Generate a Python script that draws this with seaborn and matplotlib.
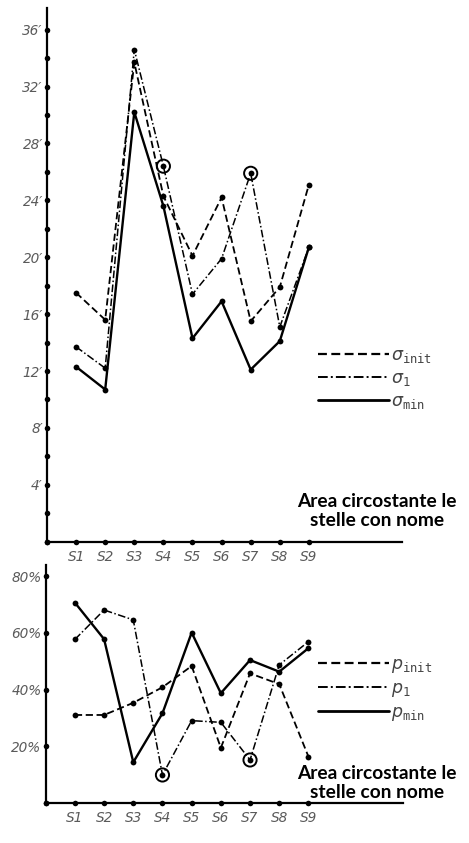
import numpy as np
import pandas as pd
import matplotlib
matplotlib.use("Agg")
import matplotlib.pyplot as plt
from matplotlib.lines import Line2D
from matplotlib.ticker import FixedLocator
import seaborn as sns

# Stars along the x axis
stars = ["S1", "S2", "S3", "S4", "S5", "S6", "S7", "S8", "S9"]

# Angular extent (arc minutes)
sigma_init = [17.5, 15.6, 33.7, 24.3, 20.1, 24.2, 15.5, 17.9, 25.1]
sigma_1 = [13.7, 12.2, 34.6, 26.4, 17.4, 19.9, 25.9, 15.1, 20.7]
sigma_min = [12.3, 10.7, 30.2, 23.6, 14.3, 16.9, 12.1, 14.1, 20.7]

# Percentages
p_init = [31.0, 31.0, 35.3, 40.8, 48.3, 19.4, 45.7, 41.9, 16.3]
p_1 = [57.7, 68.1, 64.6, 9.8, 29.0, 28.4, 15.1, 48.7, 56.9]
p_min = [70.7, 57.8, 14.3, 31.6, 60.1, 38.7, 50.4, 46.3, 54.6]

# Stars whose p_1 / sigma_1 values are ringed
ringed = ["S4", "S7"]

area_label = "Area circostante le\nstelle con nome"

sigma_ticks = [4, 8, 12, 16, 20, 24, 28, 32, 36]
pct_ticks = [20, 40, 60, 80]

sns.set_theme(style="white")
plt.rcParams["font.family"] = ["DejaVu Sans"]

fig = plt.figure(figsize=(4.69, 8.43), dpi=100)
W, H = 469, 843


def px_axes(left, top, right, bottom):
    a = fig.add_axes([left / W, 1 - bottom / H, (right - left) / W, (bottom - top) / H])
    a.set_facecolor("none")
    return a


ax_top = px_axes(47, 8.3, 402, 541.7)
ax_bot = px_axes(45.7, 565, 403, 802.7)

pos = np.arange(1, len(stars) + 1)
ink = "black"
label_grey = "#5a5a5a"

line_styles = {
    "init": (4, 2),
    "one": (5, 1.6, 1, 1.6),
    "min": "",
}
widths = {"init": 1.3, "one": 1.1, "min": 1.7}


def long_frame(series):
    rows = []
    for key, vals in series.items():
        for s, x, v in zip(stars, pos, vals):
            rows.append({"star": s, "pos": x, "value": v, "series": key})
    return pd.DataFrame(rows)


def dot_ticks(axis):
    # round dots on the axis line instead of tick strokes
    for minor in (False, True):
        for tl in axis.get_ticklines(minor=minor):
            tl.set_marker("o")
            tl.set_markersize(4.0)
            tl.set_markerfacecolor(ink)
            tl.set_markeredgewidth(0)


def draw_panel(ax, series, ymax, xmax, major, minor, fmt, legend_labels, legend_anchor, text_pos):
    df = long_frame(series)
    for key in ["init", "one", "min"]:
        sub = df[df["series"] == key]
        sns.lineplot(
            data=sub, x="pos", y="value", ax=ax, color=ink,
            linewidth=widths[key],
            marker="o", markersize=4.2, markeredgewidth=0, legend=False,
            estimator=None, sort=False,
        )
        if line_styles[key]:
            ax.lines[-1].set_dashes(line_styles[key])
    ring = df[(df["series"] == "one") & (df["star"].isin(ringed))]
    sns.scatterplot(data=ring, x="pos", y="value", ax=ax, s=90, facecolor="none",
                    edgecolor=ink, linewidth=1.4, legend=False, zorder=5)

    ax.set_xlim(0, xmax)
    ax.set_ylim(0, ymax)
    for side in ["top", "right"]:
        ax.spines[side].set_visible(False)
    for side in ["left", "bottom"]:
        ax.spines[side].set_color(ink)
        ax.spines[side].set_linewidth(1.6)

    ax.xaxis.set_major_locator(FixedLocator(list(pos)))
    ax.set_xticklabels(stars)
    ax.xaxis.set_minor_locator(FixedLocator([0]))
    ax.yaxis.set_major_locator(FixedLocator(major))
    ax.set_yticklabels([fmt(v) for v in major])
    ax.yaxis.set_minor_locator(FixedLocator(minor))
    ax.tick_params(axis="both", which="both", color=ink, left=True, bottom=True, length=0)
    ax.tick_params(axis="x", which="major", pad=6)
    ax.tick_params(axis="y", which="major", pad=3)
    dot_ticks(ax.xaxis)
    dot_ticks(ax.yaxis)
    for lab in ax.get_xticklabels() + ax.get_yticklabels():
        lab.set_fontstyle("italic")
        lab.set_color(label_grey)
        lab.set_fontsize(9.8)
    ax.set_xlabel("")
    ax.set_ylabel("")
    ax.grid(False)

    handles = [
        Line2D([], [], color=ink, lw=widths["init"] + 0.3, dashes=line_styles["init"]),
        Line2D([], [], color=ink, lw=widths["one"] + 0.3, dashes=line_styles["one"]),
        Line2D([], [], color=ink, lw=widths["min"] + 0.3),
    ]
    leg = ax.legend(handles, legend_labels, loc="upper left",
                    bbox_to_anchor=(legend_anchor[0] / W, 1 - legend_anchor[1] / H),
                    bbox_transform=fig.transFigure, frameon=False, fontsize=12.5,
                    handlelength=4.1, handletextpad=0.1, labelspacing=0.22,
                    borderpad=0, borderaxespad=0)
    for t in leg.get_texts():
        t.set_color("#444444")

    fig.text(text_pos[0] / W, 1 - text_pos[1] / H, area_label, ha="center", va="center",
             fontsize=13.8, fontweight="bold", family="Lato", color="black",
             linespacing=1.2)


draw_panel(
    ax_top,
    {"init": sigma_init, "one": sigma_1, "min": sigma_min},
    37.5, 12.2, sigma_ticks, [0] + [v - 2 for v in sigma_ticks],
    lambda v: f"{v}\u2032",
    [r"$\sigma_{\mathtt{init}}$", r"$\sigma_{\mathtt{1}}$", r"$\sigma_{\mathtt{min}}$"],
    (318, 346), (377, 511),
)

draw_panel(
    ax_bot,
    {"init": p_init, "one": p_1, "min": p_min},
    84, 12.24, pct_ticks, [0],
    lambda v: f"{v}%",
    [r"$p_{\mathtt{init}}$", r"$p_{\mathtt{1}}$", r"$p_{\mathtt{min}}$"],
    (318, 655), (377, 783),
)

fig.savefig("out.png", dpi=100)
